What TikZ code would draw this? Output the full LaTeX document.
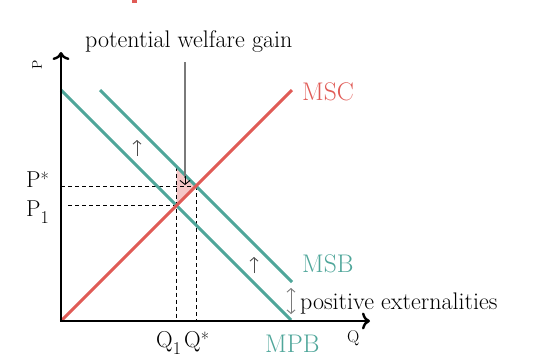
\documentclass[tikz,border=0pt]{standalone}
\usepackage{fontspec}
\usetikzlibrary{arrows.meta}
\definecolor{mygreen}{HTML}{4FA69A}
\definecolor{myred}{HTML}{E05B56}
\definecolor{mypink}{HTML}{F5C6C6}
\definecolor{mygray}{HTML}{7A7A7A}
\newcommand{\mysub}[1]{\raisebox{-7pt}{\fontsize{18}{18}\selectfont #1}}
\newcommand{\mysup}[1]{\raisebox{2pt}{\fontsize{18}{18}\selectfont #1}}
\begin{document}
\begin{tikzpicture}[x=1pt,y=-1pt,
  axis/.style={line width=2.4pt, black, line join=miter},
  curve/.style={line width=3pt},
  guide/.style={line width=0.8pt, black, dash pattern=on 4pt off 3pt},
  lbl/.style={inner sep=0pt, anchor=base west, font=\fontsize{24}{28}\selectfont},
  big/.style={inner sep=0pt, anchor=base west, font=\fontsize{25.5}{29}\selectfont},
  plab/.style={inner sep=0pt, anchor=base west, font=\fontsize{23}{27}\selectfont},
  axtip/.style={Computer Modern Rightarrow[length=8pt,width=17pt,line width=2.4pt]},
  shiftarrow/.style={line width=0.9pt, draw=black!70, -{Straight Barb[length=3.5pt,width=8pt]}}]
\useasboundingbox (0,0) rectangle (550,360);
% fragment at top
\fill[myred] (132,0) rectangle (137,3);
% coordinates
\coordinate (O) at (61,321);
\coordinate (Ytop) at (61,52);
\coordinate (Xend) at (370,321);
\coordinate (mpbA) at (61,90);
\coordinate (mpbB) at (291,320);
\coordinate (msbA) at (100,90);
\coordinate (msbB) at (292,282);
\coordinate (mscB) at (292,90);
\coordinate (E1) at (176.5,205.5);
\coordinate (Es) at (196,186);
\coordinate (T) at (176.5,166.5);
% welfare triangle
\fill[mypink] (T) -- (E1) -- (Es) -- cycle;
% guides
\draw[guide] (61,186) -- (Es);
\draw[guide] (68,205.5) -- (E1);
\draw[guide] (T) -- (176.5,321);
\draw[guide] (Es) -- (196,321);
% curves
\draw[curve, mygreen] (mpbA) -- (mpbB);
\draw[curve, mygreen] (msbA) -- (msbB);
\draw[curve, myred] (O) -- (mscB);
% axes
\draw[axis, {Computer Modern Rightarrow[length=8pt,width=17pt]}-{Computer Modern Rightarrow[length=8pt,width=17pt]}] (Ytop) -- (O) -- (Xend);
% labels
\node[big, text=myred] (msc) at (302,100) {MSC};
\node[big, text=mygreen] (msb) at (302,272) {MSB};
\node[big, text=mygreen] (mpb) at (265,352) {MPB};
\node[inner sep=0pt, rotate=90, font=\fontsize{14}{16}\selectfont] (plab) at (37,65) {P};
\node[inner sep=0pt, anchor=base west, font=\fontsize{17}{20}\selectfont] (qlab) at (347,342) {Q};
\node[plab] (pstar) at (26,187) {P\mysup{*}};
\node[plab] (p1) at (26,216) {P\mysub{1}};
\node[plab] (q1) at (156,347) {Q\mysub{1}};
\node[plab] (qstar) at (184,347) {Q\mysup{*}};
\node[lbl] (pwg) at (85,47) {potential welfare gain};
\node[lbl] (pe) at (300,309) {positive externalities};
% welfare arrow
\coordinate (wtop) at (185,62);
\coordinate (wbot) at (185,185);
\draw[line width=1.2pt, mygray] (wtop) -- (185,178);
\draw[line width=0.9pt, black, -{Straight Barb[length=4pt,width=10pt]}] (185,176) -- (wbot);
% shift arrows
\coordinate (s1a) at (137,156);
\coordinate (s1b) at (137,140);
\coordinate (s2a) at (254,273);
\coordinate (s2b) at (254,257);
\draw[shiftarrow] (s1a) -- (s1b);
\draw[shiftarrow] (s2a) -- (s2b);
% externality arrow
\coordinate (xa) at (291,288);
\coordinate (xb) at (291,314);
\draw[line width=0.9pt, draw=mygray, {Straight Barb[length=3.5pt,width=8pt]}-{Straight Barb[length=3.5pt,width=8pt]}] (xa) -- (xb);
\end{tikzpicture}
\end{document}
